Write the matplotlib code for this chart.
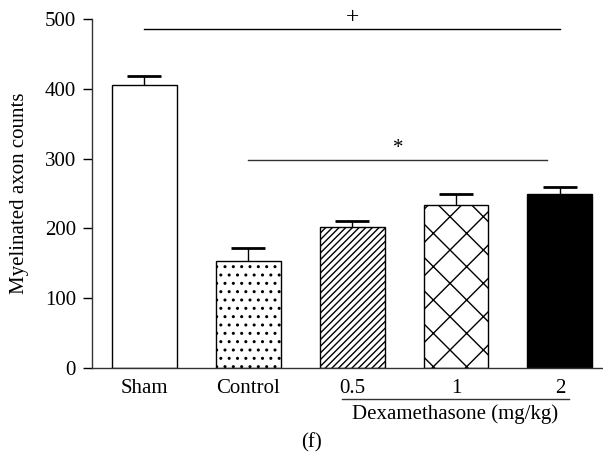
import matplotlib.pyplot as plt
from matplotlib.lines import Line2D

# values
groups = ['Sham', 'Control', '0.5', '1', '2']
counts = [405, 153, 202, 234, 249]
errs = [14, 19, 9, 15, 11]
hatches = ['', '..', '/////', 'x', '']
fills = ['white', 'white', 'white', 'white', 'black']
yticks = [0, 100, 200, 300, 400, 500]

plt.rcParams['font.family'] = ['Liberation Serif', 'DejaVu Serif']
plt.rcParams['hatch.linewidth'] = 1.0

fig = plt.figure(figsize=(6.03, 4.58), dpi=100)
ax = fig.add_axes([0.1526, 0.1972, 0.8464, 0.7607])

x = list(range(len(groups)))
ax.bar(x, counts, width=0.625, color=fills, edgecolor='black',
       hatch=hatches, linewidth=1.0, zorder=2)
eb = ax.errorbar(x, counts, yerr=[[0] * len(errs), errs], fmt='none',
                 ecolor='black', elinewidth=1.0, capsize=12, capthick=2,
                 zorder=3)
eb[1][0].set_visible(False)  # no lower caps

ax.set_xlim(-0.505, 4.41)
ax.set_ylim(0, 500)
ax.set_yticks(yticks)
ax.set_xticks(x)
ax.set_xticklabels(groups, fontsize=15)
ax.tick_params(axis='x', length=0, pad=8)
ax.tick_params(axis='y', length=6.5, width=1, labelsize=15, pad=5)
ax.spines['top'].set_visible(False)
ax.spines['right'].set_visible(False)
for s in ['left', 'bottom']:
    ax.spines[s].set_linewidth(1.0)
    ax.spines[s].set_color('#333333')
ax.set_ylabel('Myelinated axon counts', fontsize=15)
ax.yaxis.set_label_coords(-0.124, 0.5)

# significance bars
ax.plot([0, 4], [486, 486], color='black', lw=1.0, clip_on=False)
ax.text(2, 488, '+', ha='center', va='bottom', fontsize=17)
ax.plot([1, 3.88], [298, 298], color='#333333', lw=1.0, clip_on=False)
ax.text(2.44, 301, '*', ha='center', va='bottom', fontsize=15)

# dose group label under the axis
tr = ax.get_xaxis_transform()
ax.add_line(Line2D([1.90, 4.09], [-0.0907, -0.0907], transform=tr,
                   color='#333333', lw=1.0, clip_on=False))
ax.text(2.99, -0.134, 'Dexamethasone (mg/kg)', transform=tr,
        ha='center', va='center', fontsize=15)
fig.text(0.516, 1 - 443 / 458, '(f)', ha='center', va='center', fontsize=15)

fig.savefig('out.png', dpi=100)
